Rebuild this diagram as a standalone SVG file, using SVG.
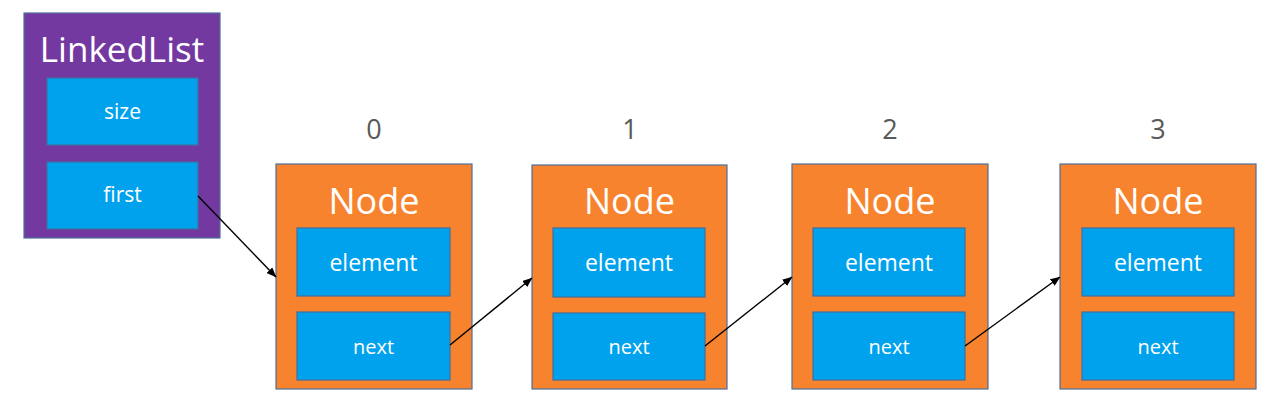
<svg xmlns="http://www.w3.org/2000/svg" width="1268" height="401" viewBox="0 0 1268 401">
<style>
.bg{fill:#ffffff}
.list{fill:#7339A1;stroke:#4D6F9A;stroke-width:1.2}
.node{fill:#F8832E;stroke:#4D6F9A;stroke-width:1.2}
.field{fill:#00A2EE;stroke:#3F6F9E;stroke-width:1.2}
.t{font-family:"Open Sans","Noto Sans",sans-serif;fill:#ffffff;text-anchor:middle}
.title{font-size:35px}
.ntitle{font-size:36px}
.el{font-size:23px}
.nx{font-size:20px}
.fl{font-size:21px}
.idx{font-family:"Open Sans","Noto Sans",sans-serif;font-size:27px;fill:#595959;text-anchor:middle}
.conn{stroke:#000000;stroke-width:1.4;fill:none;marker-end:url(#arr)}
</style>
<defs>
<marker id="arr" markerWidth="10" markerHeight="8" refX="9.5" refY="4" orient="auto" markerUnits="userSpaceOnUse">
<path d="M0,0 L10,4 L0,8 Z" fill="#000000"/>
</marker>
</defs>
<rect class="bg" x="0" y="0" width="1268" height="401"/>

<g id="linkedlist">
<rect class="list" x="24" y="13" width="196" height="225"/>
<text class="t title" x="122" y="62">LinkedList</text>
<rect class="field" x="47" y="78" width="151" height="67"/>
<text class="t fl" x="122.5" y="119">size</text>
<rect class="field" x="47" y="162" width="151" height="67"/>
<text class="t fl" x="122.5" y="202">first</text>
</g>

<g id="node0">
<text class="idx" x="374" y="139">0</text>
<rect class="node" x="276" y="164" width="196" height="225"/>
<text class="t ntitle" x="374" y="214">Node</text>
<rect class="field" x="297" y="228" width="153" height="68"/>
<text class="t el" x="373.5" y="271">element</text>
<rect class="field" x="297" y="312" width="153" height="68"/>
<text class="t nx" x="373.5" y="354">next</text>
</g>

<g id="node1">
<text class="idx" x="630" y="139">1</text>
<rect class="node" x="532" y="165" width="195" height="224"/>
<text class="t ntitle" x="629.5" y="214">Node</text>
<rect class="field" x="553" y="228" width="152" height="69"/>
<text class="t el" x="629" y="271">element</text>
<rect class="field" x="553" y="313" width="152" height="67"/>
<text class="t nx" x="629" y="354">next</text>
</g>

<g id="node2">
<text class="idx" x="890" y="139">2</text>
<rect class="node" x="792" y="164" width="196" height="225"/>
<text class="t ntitle" x="890" y="214">Node</text>
<rect class="field" x="813" y="228" width="152" height="68"/>
<text class="t el" x="889" y="271">element</text>
<rect class="field" x="813" y="312" width="152" height="68"/>
<text class="t nx" x="889" y="354">next</text>
</g>

<g id="node3">
<text class="idx" x="1158" y="139">3</text>
<rect class="node" x="1060" y="164" width="196" height="225"/>
<text class="t ntitle" x="1158" y="214">Node</text>
<rect class="field" x="1082" y="228" width="152" height="68"/>
<text class="t el" x="1158" y="271">element</text>
<rect class="field" x="1082" y="312" width="152" height="68"/>
<text class="t nx" x="1158" y="354">next</text>
</g>

<g id="connectors">
<line class="conn" x1="198" y1="196" x2="276" y2="277"/>
<line class="conn" x1="450" y1="345" x2="532" y2="278"/>
<line class="conn" x1="705" y1="346" x2="792" y2="277"/>
<line class="conn" x1="965" y1="346" x2="1060" y2="277"/>
</g>
</svg>
